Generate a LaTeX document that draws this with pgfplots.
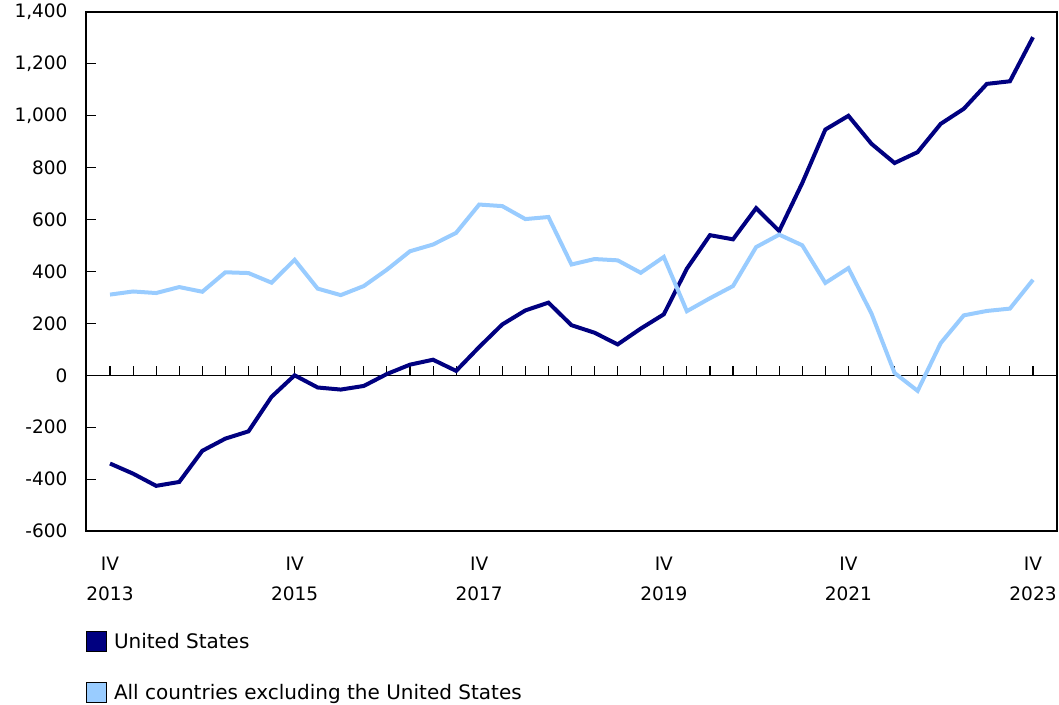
\documentclass[border=0pt]{standalone}
\usepackage{pgfplots}
\usepackage{pgfplotstable}
\pgfplotsset{compat=1.18}
\usepackage{fontspec}
\setmainfont{DejaVu Sans}
\definecolor{usnavy}{RGB}{0,0,128}
\definecolor{lightb}{RGB}{153,204,255}

\pgfplotstableread{
x us oth
0 -340 311
1 -379 323
2 -426 317
3 -411 340
4 -291 322
5 -244 397
6 -216 394
7 -83 357
8 0 445
9 -47 334
10 -55 309
11 -41 344
12 5 407
13 41 478
14 60 504
15 17 549
16 109 658
17 196 652
18 250 602
19 280 610
20 193 427
21 164 448
22 119 443
23 180 395
24 235 456
25 411 247
26 540 297
27 524 344
28 644 494
29 556 542
30 741 501
31 947 356
32 1000 413
33 892 238
34 818 9
35 860 -60
36 969 124
37 1027 231
38 1123 248
39 1133 257
40 1303 368
}\datatable

\begin{document}
\begin{tikzpicture}[font=\fontsize{18.5}{30}\selectfont]
\useasboundingbox (0,0) rectangle (1059pt,704pt);
% zero line with quarterly ticks
\begin{axis}[
  at={(86pt,173pt)}, anchor=south west, scale only axis,
  width=971pt, height=519pt,
  xmin=-1.04, xmax=41.04, ymin=-600, ymax=1400,
  axis x line=middle, hide y axis,
  axis line style={-, line width=1.2pt, black},
  every inner x axis line/.append style={-},
  xtick={0,1,...,40}, xticklabel=\empty,
  xtick align=inside, major tick length=9pt,
  tick style={line width=1.1pt, black},
]
\end{axis}
\begin{axis}[
  at={(86pt,173pt)}, anchor=south west, scale only axis,
  width=971pt, height=519pt,
  xmin=-1.04, xmax=41.04, ymin=-600, ymax=1400,
  ytick={-600,-400,...,1400},
  yticklabels={-600,-400,-200,0,200,400,600,800,{1,000},{1,200},{1,400}},
  ytick pos=left, ytick align=inside, major tick length=10pt,
  xtick={0,8,16,24,32,40},
  xticklabels={{IV\\2013},{IV\\2015},{IV\\2017},{IV\\2019},{IV\\2021},{IV\\2023}},
  xticklabel style={align=center, yshift=-22pt},
  yticklabel style={xshift=-15pt},
  x tick style={draw=none},
  axis line style={line width=1.2pt, black},
  tick style={line width=1pt, black},
  every tick label/.append style={font=\fontsize{18.5}{30}\selectfont},
  legend style={at={(0,-0.193)}, anchor=north west, draw=none, fill=none,
    inner sep=0pt, row sep=30pt, legend cell align=left,
    font=\fontsize{20}{22}\selectfont,
    /tikz/every odd column/.append style={column sep=5pt}},
]
\addplot[usnavy, line width=4pt,
  legend image code/.code={\draw[fill=usnavy, draw=black, line width=0.8pt] (0pt,-10pt) rectangle (20pt,10pt);}]
  table[x=x, y=us] {\datatable};
\addlegendentry{United States}
\addplot[lightb, line width=4pt,
  legend image code/.code={\draw[fill=lightb, draw=black, line width=0.8pt] (0pt,-10pt) rectangle (20pt,10pt);}]
  table[x=x, y=oth] {\datatable};
\addlegendentry{All countries excluding the United States}
\end{axis}
\end{tikzpicture}
\end{document}
